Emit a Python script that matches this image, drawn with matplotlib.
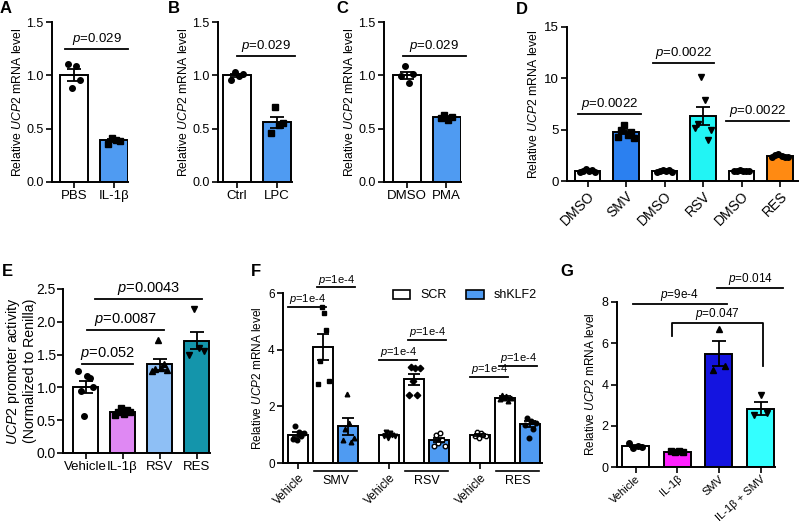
import matplotlib
matplotlib.use('Agg')
import matplotlib.pyplot as plt
from matplotlib.patches import Patch
import numpy as np

plt.rcParams['font.family'] = ['Liberation Sans', 'DejaVu Sans']
plt.rcParams['mathtext.fontset'] = 'custom'
plt.rcParams['mathtext.rm'] = 'Liberation Sans'
plt.rcParams['mathtext.it'] = 'Liberation Sans:italic'

W, H = 800, 528
BLUE = '#4f9bf2'
YLAB = r'Relative $\mathit{UCP2}$ mRNA level'

# ---- data ----
A_labels = ['PBS', 'IL-1β']
A_mean = [1.0, 0.39]
A_sem = [0.055, 0.012]
A_pts = [[1.11, 0.88, 1.09, 0.96], [0.36, 0.41, 0.39, 0.38]]

B_labels = ['Ctrl', 'LPC']
B_mean = [1.0, 0.56]
B_sem = [0.015, 0.05]
B_pts = [[0.96, 1.03, 0.99, 1.01], [0.46, 0.70, 0.53, 0.55]]

C_labels = ['DMSO', 'PMA']
C_mean = [1.0, 0.61]
C_sem = [0.03, 0.01]
C_pts = [[0.99, 1.09, 0.93, 1.01], [0.60, 0.63, 0.58, 0.61]]

D_labels = ['DMSO', 'SMV', 'DMSO', 'RSV', 'DMSO', 'RES']
D_mean = [1.0, 4.75, 1.0, 6.35, 1.0, 2.4]
D_sem = [0.06, 0.2, 0.05, 0.9, 0.03, 0.05]
D_pts = [[0.9, 1.0, 1.2, 0.95, 1.1, 0.85],
         [4.3, 5.0, 5.5, 4.5, 4.8, 4.2],
         [0.9, 1.0, 1.1, 0.95, 1.05, 0.9],
         [5.2, 5.6, 10.1, 7.9, 4.0, 5.0],
         [1.0, 1.0, 1.05, 1.0, 0.98, 1.0],
         [2.3, 2.5, 2.6, 2.4, 2.35, 2.3]]
D_colors = ['white', '#2b80f0', 'white', '#22f4f4', 'white', '#ff8a12']

E_labels = ['Vehicle', 'IL-1β', 'RSV', 'RES']
E_mean = [1.0, 0.62, 1.35, 1.71]
E_sem = [0.09, 0.02, 0.09, 0.13]
E_pts = [[1.25, 0.95, 0.57, 1.18, 1.15, 1.0],
         [0.58, 0.63, 0.68, 0.6, 0.65, 0.62],
         [1.25, 1.28, 1.72, 1.3, 1.35, 1.27],
         [1.5, 2.2, 1.6, 1.55]]
E_colors = ['white', '#df88f3', '#8ebff5', '#1495ab']

F_groups = ['SMV', 'RSV', 'RES']
F_legend = ['SCR', 'shKLF2']
F_mean = [1.0, 4.1, 1.3, 1.0, 2.95, 0.82, 1.0, 2.3, 1.38]
F_sem = [0.08, 0.45, 0.3, 0.03, 0.2, 0.08, 0.04, 0.05, 0.1]
F_pts = [[0.85, 1.3, 0.8, 1.1, 0.95, 1.05],
         [2.8, 3.6, 5.5, 5.3, 4.7, 2.9],
         [0.8, 1.2, 2.45, 1.4, 0.75, 0.9],
         [0.95, 1.1, 0.9, 1.05, 1.0, 0.95],
         [2.4, 3.4, 2.9, 3.35, 2.4, 3.35],
         [0.6, 1.0, 0.7, 1.05, 0.8, 0.6],
         [0.95, 1.1, 0.9, 1.05, 1.0, 0.95],
         [2.25, 2.4, 2.3, 2.35, 2.2, 2.3],
         [1.35, 1.6, 0.9, 1.5, 1.2, 1.4]]
F_colors = ['white', 'white', BLUE] * 3

G_labels = ['Vehicle', 'IL-1β', 'SMV', 'IL-1β + SMV']
G_mean = [1.0, 0.75, 5.5, 2.83]
G_sem = [0.05, 0.02, 0.6, 0.3]
G_pts = [[1.15, 0.93, 1.0, 0.95], [0.78, 0.72, 0.76, 0.75],
         [4.7, 6.7, 4.9], [2.5, 3.5, 2.6]]
G_colors = ['white', '#ff22ff', '#1414e0', '#33ffff']

fig = plt.figure(figsize=(8, 5.28), dpi=100)


def box(x0, x1, ytop, ybot, fs=8):
    ax = fig.add_axes([x0 / W, 1 - ybot / H, (x1 - x0) / W, (ybot - ytop) / H])
    ax.spines['top'].set_visible(False)
    ax.spines['right'].set_visible(False)
    ax.spines['left'].set_linewidth(1.4)
    ax.spines['bottom'].set_linewidth(1.4)
    ax.tick_params(width=1.2, length=4, labelsize=fs, pad=2)
    return ax


def span(ax, x0, x1, first, step):
    # map bar index 0 to pixel `first`, one index = `step` px
    ax.set_xlim(-(first - x0) / step, (x1 - first) / step)


def bars(ax, xs, mean, sem, pts, colors, markers, width, ms=4, cap=5, spread=0.2):
    ax.bar(xs, mean, width, color=colors, edgecolor='k', linewidth=1.4, zorder=2)
    for x, v, m in zip(xs, pts, markers):
        off = np.linspace(-spread, spread, len(v))
        face = 'k'
        if m in ('open_o', 'open_8'):
            face = 'white'
            m = 'o' if m == 'open_o' else '8'
        ax.plot(x + off, v, ls='none', marker=m, ms=ms, mfc=face, mec='k', mew=1.0, zorder=4)
    ax.errorbar(xs, mean, yerr=sem, fmt='none', ecolor='k', elinewidth=1.3,
                capsize=cap, capthick=1.3, zorder=5)


def pline(ax, x0, x1, y, txt, fs=9.5, dy=0.0):
    ax.plot([x0, x1], [y, y], color='k', lw=1.3, clip_on=False, zorder=6)
    ax.annotate(r'$\mathit{p}$=' + txt, ((x0 + x1) / 2, y), xytext=(0, 1.5 + dy),
                textcoords='offset points', ha='center', va='bottom', fontsize=fs,
                annotation_clip=False)


def letter(x, y, s):
    fig.text(x / W, 1 - y / H, s, fontsize=12, fontweight='bold', va='top', ha='left')


# ---- A, B, C ----
for (x0, x1, first, lab, mean, sem, pts, mk, pl, L, lx) in [
        (52, 128, 74, A_labels, A_mean, A_sem, A_pts, ['o', 's'], (-0.22, 1.35, 1.25, '0.029'), 'A', 0),
        (218, 292, 237, B_labels, B_mean, B_sem, B_pts, ['o', 's'], (0.0, 1.45, 1.18, '0.029'), 'B', 168),
        (384, 461, 406.5, C_labels, C_mean, C_sem, C_pts, ['o', 's'], (-0.1, 1.49, 1.18, '0.029'), 'C', 336)]:
    ax = box(x0, x1, 22, 182, fs=9)
    xs = np.arange(len(lab))
    bars(ax, xs, mean, sem, pts, ['white', BLUE], mk, 0.7, spread=0.15)
    span(ax, x0, x1, first, 40)
    ax.set_ylim(0, 1.5)
    ax.set_yticks([0, 0.5, 1.0, 1.5])
    ax.set_yticklabels(['0.0', '0.5', '1.0', '1.5'])
    ax.set_xticks(xs)
    ax.set_xticklabels(lab, fontsize=9.5)
    ax.set_ylabel(YLAB, fontsize=8.8, labelpad=2)
    pline(ax, *pl)
    letter(lx, 1, L)

# ---- D ----
ax = box(567, 798, 27, 181, fs=9.5)
xs = np.arange(len(D_labels))
bars(ax, xs, D_mean, D_sem, D_pts, D_colors, ['o', 's', 'o', 'v', 'o', 'o'], 0.66, spread=0.2)
span(ax, 567, 798, 587.5, 38.5)
ax.set_ylim(0, 15)
ax.set_yticks([0, 5, 10, 15])
ax.set_xticks(xs)
ax.set_xticklabels(D_labels, rotation=45, ha='right', rotation_mode='anchor', fontsize=10)
ax.set_ylabel(YLAB, fontsize=8.8, labelpad=3)
pline(ax, -0.25, 1.4, 6.5, '0.0022')
pline(ax, 1.7, 3.29, 11.5, '0.0022')
pline(ax, 3.6, 5.23, 5.8, '0.0022')
letter(516, 2, 'D')

# ---- E ----
ax = box(63, 210, 289, 453, fs=10)
ax.tick_params(axis='y', pad=1)
xs = np.arange(len(E_labels))
bars(ax, xs, E_mean, E_sem, E_pts, E_colors, ['o', 's', '^', 'v'], 0.68, spread=0.2)
span(ax, 63, 210, 85.5, 37)
ax.set_ylim(0, 2.5)
ax.set_yticks([0, 0.5, 1.0, 1.5, 2.0, 2.5])
ax.set_yticklabels(['0.0', '0.5', '1.0', '1.5', '2.0', '2.5'])
ax.set_xticks(xs)
ax.set_xticklabels(E_labels, fontsize=9.5)
ax.set_ylabel('$\\mathit{UCP2}$ promoter activity\n(Normalized to Renilla)', fontsize=10.2,
              labelpad=0, linespacing=1.05)
pline(ax, -0.1, 1.28, 1.36, '0.052', fs=10.5)
pline(ax, 0.04, 2.12, 1.88, '0.0087', fs=10.5)
pline(ax, 0.26, 3.15, 2.35, '0.0043', fs=10.5)
letter(2, 264, 'E')

# ---- F ----
ax = box(283, 542, 293, 463, fs=8.5)
gstep = 3.64
xs = np.array([g * gstep + k for g in range(3) for k in range(3)])
mk = ['o', 's', '^', 'v', 'D', 'open_o', 'open_8', '^', 'o']
bars(ax, xs, F_mean, F_sem, F_pts, F_colors, mk, 0.8, ms=3.3, cap=4, spread=0.22)
span(ax, 283, 542, 298, 25)
ax.set_ylim(0, 6)
ax.set_yticks([0, 2, 4, 6])
ax.set_xticks(xs[::3])
ax.set_xticklabels(['Vehicle'] * 3, rotation=45, ha='right', rotation_mode='anchor', fontsize=8.5)
ax.set_ylabel(YLAB, fontsize=8.5, labelpad=3)
trans = ax.get_xaxis_transform()
for g, name in enumerate(F_groups):
    c = g * gstep + 1.5
    ax.plot([c - 0.86, c + 0.86], [-0.047, -0.047], color='k', lw=1.2, transform=trans, clip_on=False)
    ax.text(c, -0.07, name, ha='center', va='top', fontsize=9, transform=trans)
for g, (ya, yb) in enumerate([(5.5, 6.2), (3.64, 4.35), (3.04, 3.43)]):
    b = g * gstep
    pline(ax, b - 0.4, b + 1.12, ya, '1e-4', fs=8, dy=-1)
    pline(ax, b + 0.76, b + 2.28, yb, '1e-4', fs=8, dy=-1)
handles = [Patch(facecolor='white', edgecolor='k', lw=1.2), Patch(facecolor=BLUE, edgecolor='k', lw=1.2)]
ax.legend(handles, F_legend, ncol=2, frameon=False, fontsize=9, loc='upper right',
          bbox_to_anchor=(1.0, 1.05), borderaxespad=0, handlelength=1.4, handleheight=0.7,
          handletextpad=0.8, columnspacing=1.6)
letter(251, 264, 'F')

# ---- G ----
ax = box(617, 775, 302, 467, fs=9)
ax.tick_params(axis='x', pad=1)
xs = np.arange(len(G_labels))
bars(ax, xs, G_mean, G_sem, G_pts, G_colors, ['o', 's', '^', 'v'], 0.65, spread=0.15)
span(ax, 617, 775, 635.5, 41.7)
ax.set_ylim(0, 8)
ax.set_yticks([0, 2, 4, 6, 8])
ax.set_xticks(xs)
ax.set_xticklabels(G_labels, rotation=42, ha='right', rotation_mode='anchor', fontsize=8)
ax.set_ylabel(YLAB, fontsize=8.5, labelpad=3)
pline(ax, -0.06, 2.19, 7.9, '9e-4', fs=8.5, dy=-1)
pline(ax, 1.95, 3.54, 8.7, '0.014', fs=8.5, dy=-1)
ax.plot([0.88, 0.88, 3.06, 3.06], [6.35, 7.0, 7.0, 4.9], color='k', lw=1.3, clip_on=False)
ax.annotate(r'$\mathit{p}$=0.047', (1.97, 7.0), xytext=(0, 0.5), textcoords='offset points',
            ha='center', va='bottom', fontsize=8.5)
letter(560, 264, 'G')

fig.savefig('out.png', dpi=100)
